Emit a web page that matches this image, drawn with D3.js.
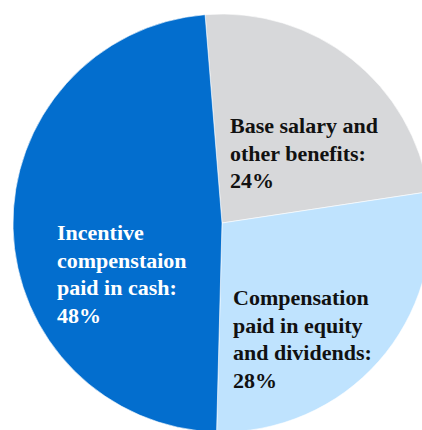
<!DOCTYPE html>
<html>
<head>
<meta charset="utf-8">
<script src="https://cdn.jsdelivr.net/npm/d3@7"></script>
<style>
  html, body { margin: 0; padding: 0; background: #ffffff; }
  svg { display: block; }
</style>
</head>
<body>
<div id="chart"></div>
<script>
// Data (slice sizes; labels show rounded values)
const categories = ["Base salary and other benefits", "Compensation paid in equity and dividends", "Incentive compenstaion paid in cash"];
const values = [23.9, 27.8, 48.3];
const labelLines = [
  ["Base salary and", "other benefits:", "24%"],
  ["Compensation", "paid in equity", "and dividends:", "28%"],
  ["Incentive", "compenstaion", "paid in cash:", "48%"]
];
const colors = ["#D7D8DA", "#BFE3FE", "#036ECE"];
const textColors = ["#111111", "#111111", "#ffffff"];

const W = 422, H = 430;
const cx = 222, cy = 223, R = 209;
// label anchor (x, first baseline) relative to centre
const labelAnchors = [[8, -90], [11, 82], [-165, 17]];
const lineH = 27.5;

const svg = d3.select("#chart").append("svg").attr("width", W).attr("height", H);
const g = svg.append("g").attr("transform", `translate(${cx},${cy})`);

const pie = d3.pie().sort(null).value(d => d).startAngle(-0.081).endAngle(-0.081 + 2 * Math.PI);
const arc = d3.arc().innerRadius(0).outerRadius(R);
const arcs = pie(values);

g.selectAll("path.slice").data(arcs).join("path")
  .attr("class", "slice")
  .attr("d", arc)
  .attr("fill", (d, i) => colors[i])
  .attr("stroke", "#ffffff")
  .attr("stroke-width", 0.6);

const labels = g.selectAll("text.lbl").data(arcs).join("text")
  .attr("class", "lbl")
  .attr("font-family", "'Liberation Serif', 'Times New Roman', serif")
  .attr("font-weight", "bold")
  .attr("font-size", 22)
  .attr("fill", (d, i) => textColors[i]);

labels.each(function(d, i) {
  const t = d3.select(this);
  labelLines[i].forEach((line, k) => {
    t.append("tspan")
      .attr("x", labelAnchors[i][0])
      .attr("y", labelAnchors[i][1] + k * lineH)
      .text(line);
  });
});
</script>
</body>
</html>
